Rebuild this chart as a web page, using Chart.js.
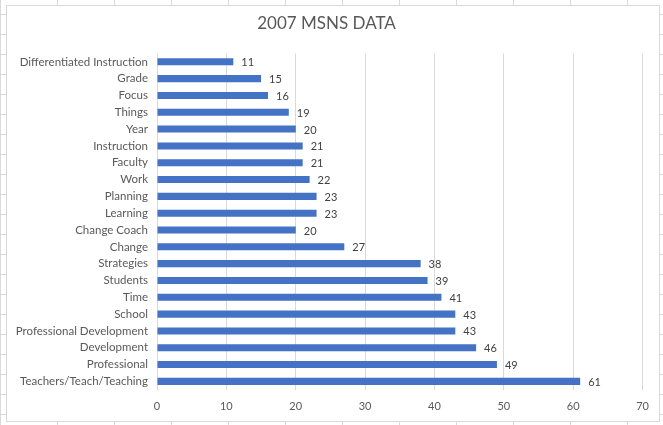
<!DOCTYPE html>
<html>
<head>
<meta charset="utf-8">
<script src="https://cdn.jsdelivr.net/npm/chart.js@4"></script>
<style>
  html, body { margin: 0; padding: 0; }
  body {
    width: 663px; height: 425px; overflow: hidden; position: relative;
    background-color: #fff;
    /* spreadsheet cells peeking out behind the chart box */
    background-image:
      linear-gradient(to right, #d9d9d9 1px, transparent 1px),
      linear-gradient(to bottom, #d9d9d9 1px, transparent 1px);
    background-size: 57px 20px;
    background-position: 0 0, 0 14px;
  }
  #box {
    position: absolute; left: 6px; top: 5px; width: 654px; height: 417px;
    background: #fff; border: 1px solid #d9d9d9; box-sizing: border-box;
  }
</style>
</head>
<body>
<div id="box"><canvas id="chart-msns"></canvas></div>
<script>
// 2007 MSNS word counts, listed top to bottom
const terms = [
    'Differentiated Instruction', 'Grade', 'Focus', 'Things', 'Year',
    'Instruction', 'Faculty', 'Work', 'Planning', 'Learning',
    'Change Coach', 'Change', 'Strategies', 'Students', 'Time',
    'School', 'Professional Development', 'Development', 'Professional',
    'Teachers/Teach/Teaching'
];
const counts = [11, 15, 16, 19, 20, 21, 21, 22, 23, 23, 20, 27, 38, 39, 41, 43, 43, 46, 49, 61];
const xTicks = [0, 10, 20, 30, 40, 50, 60, 70];

const FONT = 'Lato, "Open Sans", sans-serif';
const TEXT = '#595959';

// ── Value labels at the end of each bar ──────────────────────
const barValues = {
    id: 'barValues',
    afterDatasetsDraw(chart) {
        const { ctx } = chart;
        const meta = chart.getDatasetMeta(0);
        ctx.save();
        ctx.font = '11px ' + FONT;
        ctx.fillStyle = '#404040';
        ctx.textAlign = 'left';
        ctx.textBaseline = 'middle';
        meta.data.forEach((bar, i) => {
            ctx.fillText(String(counts[i]), bar.x + 8, bar.y + 1);
        });
        ctx.restore();
    }
};

const ctx = document.getElementById('chart-msns').getContext('2d');
new Chart(ctx, {
    type: 'bar',
    data: {
        labels: terms,
        datasets: [{
            data: counts,
            backgroundColor: '#4472C4',
            barPercentage: 0.42,
            categoryPercentage: 1
        }]
    },
    options: {
        indexAxis: 'y',
        responsive: true, maintainAspectRatio: false,
        animation: false,
        layout: { padding: { left: 0, right: 13, top: 0, bottom: -2 } },
        plugins: {
            legend: { display: false },
            tooltip: { enabled: false },
            title: {
                display: true, text: '2007 MSNS DATA',
                color: TEXT, font: { family: FONT, size: 17, weight: 'normal' },
                padding: { top: 7, bottom: 20 }
            }
        },
        scales: {
            x: {
                min: 0, max: 70,
                afterBuildTicks(axis) { axis.ticks = xTicks.map(v => ({ value: v })); },
                grid: { color: '#d9d9d9', drawTicks: false },
                border: { display: false },
                ticks: { color: TEXT, font: { family: FONT, size: 11 }, padding: 10 }
            },
            y: {
                grid: { display: false, drawTicks: false },
                border: { display: false },
                afterFit(axis) { axis.width = 150; },
                ticks: { color: TEXT, font: { family: FONT, size: 11.5 }, padding: 9, autoSkip: false }
            }
        }
    },
    plugins: [barValues]
});
</script>
</body>
</html>
